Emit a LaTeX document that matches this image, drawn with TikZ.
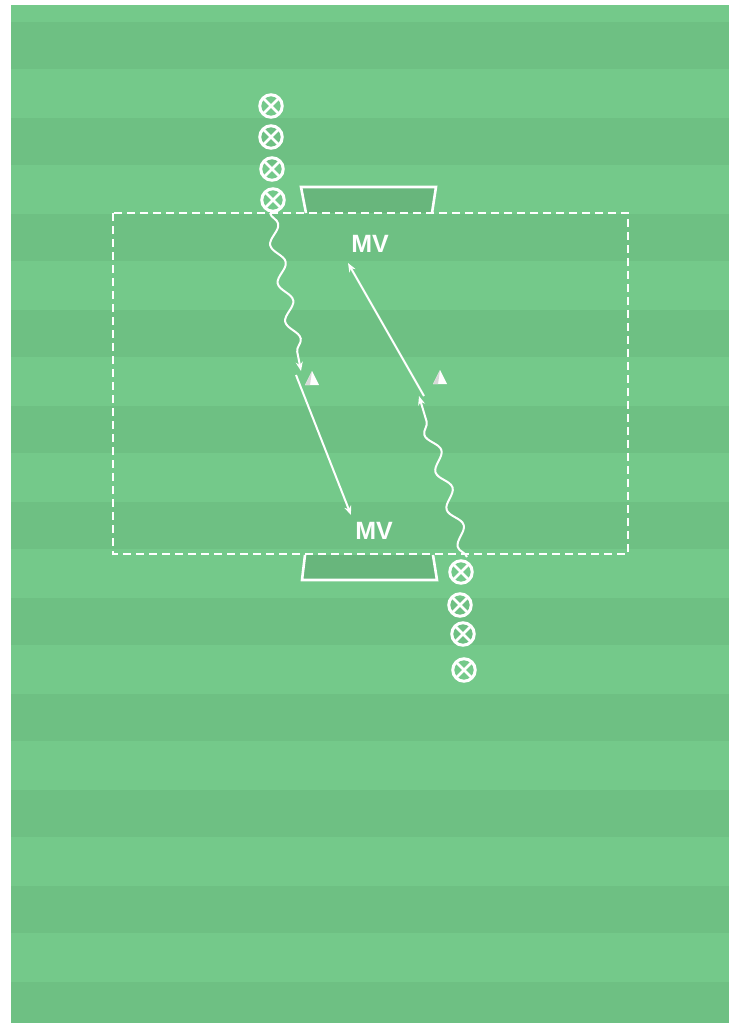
\documentclass[tikz,border=0pt]{standalone}
\usepackage{fontspec}
\setmainfont{Liberation Sans}
\usetikzlibrary{arrows.meta,decorations.pathmorphing,calc}
\definecolor{fieldlight}{RGB}{116,201,138}
\definecolor{fielddark}{RGB}{110,192,131}
\definecolor{goalfill}{RGB}{104,182,124}
\tikzset{
  player/.style={circle,draw=white,line width=3pt,minimum size=22.5pt,inner sep=0pt,
    path picture={\draw[white,line width=2.8pt]
      (path picture bounding box.south west) -- (path picture bounding box.north east)
      (path picture bounding box.north west) -- (path picture bounding box.south east);}},
  mv/.style={text=white,font=\bfseries\fontsize{25}{25}\selectfont,inner sep=0pt},
  dribble/.style={white,line width=2pt,decorate,
    decoration={snake,segment length=39pt,amplitude=6pt,post length=8pt},
    -{Stealth[length=9pt,width=7pt]}},
  pass/.style={white,line width=2pt,-{Stealth[length=9pt,width=7pt]}},
  goalside/.style={draw=white,line width=2.6pt},
  area/.style={draw=white,line width=2pt,dash pattern=on 8pt off 5pt},
}
\begin{document}
\begin{tikzpicture}[x=1pt,y=-1pt]
\useasboundingbox (0,0) rectangle (739,1023);
\fill[white] (0,0) rectangle (739,1023);
% field
\fill[fieldlight] (11,5) rectangle (729,1023);
\foreach \k in {0,...,10}{
  \fill[fielddark] (11,{22+96*\k}) rectangle (729,{69+96*\k});
}
% goals
\fill[goalfill] (301,187) -- (436,187) -- (432,213) -- (306,213) -- cycle;
\draw[goalside] (306,213) -- (301,187) -- (436,187) -- (432,213);
\fill[goalfill] (305,555) -- (433,555) -- (437,580) -- (302,580) -- cycle;
\draw[goalside] (305,555) -- (302,580) -- (437,580) -- (433,555);
% area
\draw[area] (113,213) rectangle (628,554);
% players
\node[player] (p1) at (271,106) {};
\node[player] (p2) at (271,137) {};
\node[player] (p3) at (272,169) {};
\node[player] (p4) at (273,200) {};
\node[player] (q1) at (461,572) {};
\node[player] (q2) at (460,605) {};
\node[player] (q3) at (463,634) {};
\node[player] (q4) at (464,670) {};
% labels
\node[mv] (mvt) at (370,244) {MV};
\node[mv] (mvb) at (374,531) {MV};
% cones
\node[inner sep=0pt,minimum size=1pt] (c1) at (312,378) {};
\node[inner sep=0pt,minimum size=1pt] (c2) at (440,377) {};
\foreach \c in {c1,c2}{
  \fill[white] ($(\c)+(-7,7)$) -- ($(\c)+(0,-7)$) -- ($(\c)+(7,7)$) -- cycle;
  \fill[gray!30] ($(\c)+(-7,7)$) -- ($(\c)+(0,-7)$) -- ($(\c)+(-2,7)$) -- cycle;
}
% coordinates
\coordinate (d1s) at (270,213);
\coordinate (d1e) at (301,371);
\coordinate (a1s) at (296,375);
\coordinate (a1e) at (351,515);
\coordinate (d2s) at (467,557);
\coordinate (d2e) at (419,396);
\coordinate (a2s) at (424,396);
\coordinate (a2e) at (348,263);
% movements
\draw[dribble] (d1s) -- (d1e);
\draw[pass] (a1s) -- (a1e);
\draw[dribble] (d2s) -- (d2e);
\draw[pass] (a2s) -- (a2e);
\end{tikzpicture}
\end{document}
